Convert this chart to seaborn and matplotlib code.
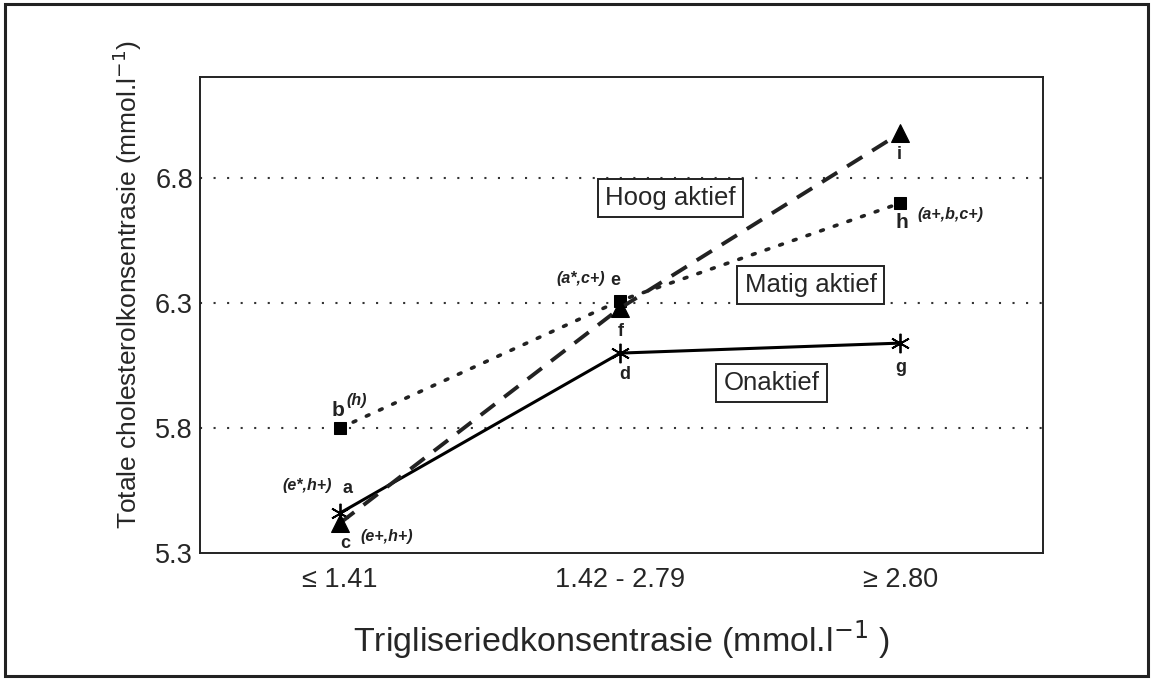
import matplotlib
matplotlib.use("Agg")
import matplotlib.pyplot as plt
from matplotlib.patches import Rectangle
import seaborn as sns
import pandas as pd

# ---- data ----
categories = ["≤ 1.41", "1.42 - 2.79", "≥ 2.80"]
onaktief = [5.46, 6.10, 6.14]
matig_aktief = [5.80, 6.31, 6.70]
hoog_aktief = [5.42, 6.28, 6.98]
yticks = [5.3, 5.8, 6.3, 6.8]
ytick_labels = ["5.3", "5.8", "6.3", "6.8"]
point_letters_on = ["a", "d", "g"]
point_letters_ma = ["b", "e", "h"]
point_letters_ho = ["c", "f", "i"]

sns.set_style("white")
plt.rcParams["font.family"] = ["Liberation Sans", "DejaVu Sans"]

fig = plt.figure(figsize=(11.52, 6.8), dpi=100)
ax = fig.add_axes([200 / 1152, 127 / 680, 843 / 1152, 476 / 680])

xpos = list(range(len(categories)))
df = pd.DataFrame({"x": xpos * 3,
                   "y": onaktief + matig_aktief + hoog_aktief,
                   "grp": ["Onaktief"] * 3 + ["Matig aktief"] * 3 + ["Hoog aktief"] * 3})

# horizontal dotted reference lines
for yt in yticks[1:]:
    ax.axhline(yt, color="#333333", lw=1.5, linestyle=(0, (1, 5.5)), zorder=1)

sub = df[df.grp == "Onaktief"]
sns.lineplot(data=sub, x="x", y="y", ax=ax, color="black", lw=2.2,
             marker=(6, 2, 0), markersize=14, markeredgewidth=1.3,
             markeredgecolor="black", zorder=3)
sub = df[df.grp == "Matig aktief"]
sns.lineplot(data=sub, x="x", y="y", ax=ax, color="#222222", lw=2.6,
             marker="s", markersize=9, markeredgecolor="black",
             markerfacecolor="black", zorder=3)
ax.lines[-1].set_linestyle((0, (0.8, 3.2)))
ax.lines[-1].set_dash_capstyle("round")
sub = df[df.grp == "Hoog aktief"]
sns.lineplot(data=sub, x="x", y="y", ax=ax, color="#222222", lw=2.8,
             marker="^", markersize=13, markeredgecolor="black",
             markerfacecolor="black", zorder=3)
ax.lines[-1].set_linestyle((0, (4.6, 3.0)))

ax.set_xlim(-0.5, 2.51)
ax.set_ylim(5.3, 7.205)
ax.set_xticks(xpos)
ax.set_xticklabels(categories, fontsize=19.5)
ax.set_yticks(yticks)
ax.set_yticklabels(ytick_labels, fontsize=19.5)
ax.tick_params(axis="x", length=0, pad=10)
ax.tick_params(axis="y", length=0, pad=5)
for s in ax.spines.values():
    s.set_color("#222222")
    s.set_linewidth(1.4)
ax.set_xlabel("Trigliseriedkonsentrasie (mmol.l$^{-1}$ )", fontsize=24.5, labelpad=18)
ax.set_ylabel("Totale cholesterolkonsentrasie (mmol.l$^{-1}$)", fontsize=19)
ax.yaxis.set_label_coords(-0.066, 0.563)

small = dict(fontsize=11.5, fontstyle="italic", fontweight="bold", color="#222222")
letter = dict(fontsize=13, fontweight="bold", color="#222222")

def lab(txt, xi, yv, dx, dy, ha="center", style=letter):
    ax.annotate(txt, xy=(xi, yv), xytext=(dx, dy), textcoords="offset pixels",
                ha=ha, va="center", **style)

# point letters
lab(point_letters_on[0], 0, onaktief[0], 7, 25)
lab(point_letters_on[1], 1, onaktief[1], 5, -21)
lab(point_letters_on[2], 2, onaktief[2], 1, -24)
lab(point_letters_ma[0], 0, matig_aktief[0], -2, 18, style=dict(letter, fontsize=15))
lab(point_letters_ma[1], 1, matig_aktief[1], -5, 20)
lab(point_letters_ma[2], 2, matig_aktief[2], 2, -19, style=dict(letter, fontsize=15))
lab(point_letters_ho[0], 0, hoog_aktief[0], 5, -20)
lab(point_letters_ho[1], 1, hoog_aktief[1], 1, -23)
lab(point_letters_ho[2], 2, hoog_aktief[2], -1, -21)

# significance notes
lab("(e*,h+)", 0, onaktief[0], -8, 28, ha="right", style=small)
lab("(e+,h+)", 0, hoog_aktief[0], 20, -13, ha="left", style=small)
lab("(h)", 0, matig_aktief[0], 6, 28, ha="left", style=small)
lab("(a*,c+)", 1, matig_aktief[1], -15, 22, ha="right", style=small)
lab("(a+,b,c+)", 2, matig_aktief[2], 17, -11, ha="left", style=small)

box = dict(boxstyle="square,pad=0.28", fc="white", ec="#222222", lw=1.4)
ax.text(1.18, 6.72, "Hoog aktief", fontsize=18.5, ha="center", va="center", bbox=box, zorder=4)
ax.text(1.68, 6.372, "Matig aktief", fontsize=18.5, ha="center", va="center", bbox=box, zorder=4)
ax.text(1.54, 5.98, "Onaktief", fontsize=18.5, ha="center", va="center", bbox=box, zorder=4)

# outer frame
fig.patches.append(Rectangle((5 / 1152, 4 / 680), 1143 / 1152, 672 / 680,
                             transform=fig.transFigure, fill=False,
                             ec="#222222", lw=2.2))

fig.savefig("out.png", dpi=100)
